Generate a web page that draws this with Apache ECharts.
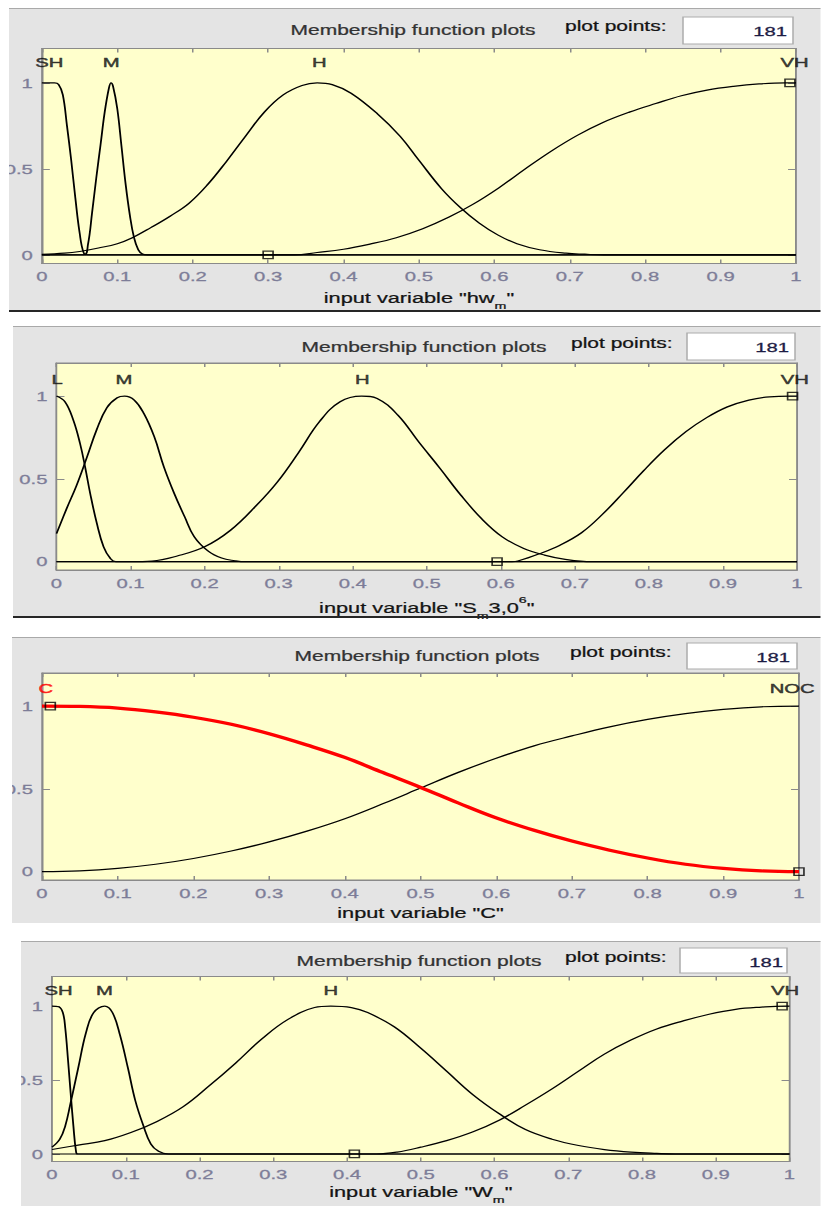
<!DOCTYPE html>
<html>
<head>
<meta charset="utf-8">
<script src="https://cdn.jsdelivr.net/npm/echarts/dist/echarts.min.js"></script>
<style>
  html, body { margin: 0; padding: 0; background: #ffffff; overflow: hidden; }
  #wrap { position: relative; width: 821px; height: 1206px; overflow: hidden; background: #ffffff; }
  /* the GUI capture is wider than tall: draw at 1/1.5 width and stretch horizontally */
  #chart { position: absolute; left: 0; top: 0; width: 547.333px; height: 1206px;
           transform: scaleX(1.5); transform-origin: 0 0; }
</style>
</head>
<body>
<div id="wrap"><div id="chart"></div></div>
<script>
// ---------------- membership functions: [x, degree] ----------------
// input "hw_m"
const hwNames = ['SH', 'M', 'H', 'VH'];
const hwPeaks = [0.01, 0.092, 0.368, 0.998];
const hwSH = [[0,1],[0.0167,1],[0.0222,0.99],[0.0278,0.93],[0.0333,0.75],[0.0389,0.55],[0.0444,0.33],[0.05,0.13],[0.0556,0.01],[0.0611,0],[1,0]];
const hwM  = [[0,0],[0.0556,0],[0.0611,0.06],[0.0667,0.25],[0.0722,0.45],[0.0778,0.64],[0.0833,0.83],[0.0889,0.97],[0.0917,1],[0.0944,0.98],[0.1,0.85],[0.1056,0.63],[0.1111,0.41],[0.1167,0.23],[0.1222,0.1],[0.1278,0.03],[0.1333,0.005],[0.14,0],[1,0]];
const hwH  = [[0,0.003],[0.03,0.01],[0.05,0.02],[0.075,0.04],[0.1,0.065],[0.12,0.1],[0.145,0.16],[0.17,0.225],[0.195,0.30],[0.22,0.41],[0.245,0.545],[0.27,0.69],[0.295,0.83],[0.32,0.93],[0.345,0.985],[0.365,1],[0.385,0.99],[0.41,0.94],[0.445,0.82],[0.475,0.69],[0.5,0.55],[0.53,0.385],[0.555,0.275],[0.58,0.185],[0.605,0.115],[0.63,0.065],[0.66,0.03],[0.695,0.01],[0.72,0.004],[0.745,0],[1,0]];
const hwVH = [[0,0],[0.335,0],[0.365,0.014],[0.4,0.033],[0.435,0.063],[0.47,0.1],[0.505,0.152],[0.54,0.22],[0.572,0.295],[0.606,0.39],[0.641,0.5],[0.676,0.605],[0.71,0.695],[0.744,0.77],[0.779,0.83],[0.814,0.88],[0.848,0.925],[0.882,0.958],[0.917,0.98],[0.951,0.994],[0.986,1],[1,1]];
const hwHandles = [[0.3,0],[0.992,1]];

// input "S_m 3,0^6"
const sNames = ['L', 'M', 'H', 'VH'];
const sPeaks = [0.001, 0.091, 0.413, 0.997];
const sL  = [[0,1],[0.0114,0.966],[0.0227,0.855],[0.0318,0.714],[0.0386,0.573],[0.0455,0.412],[0.0545,0.231],[0.0636,0.09],[0.0727,0.02],[0.08,0],[1,0]];
const sM  = [[0,0.17],[0.0136,0.32],[0.027,0.46],[0.041,0.63],[0.0545,0.8],[0.068,0.93],[0.082,0.99],[0.092,1],[0.105,0.976],[0.118,0.895],[0.132,0.755],[0.145,0.573],[0.159,0.412],[0.173,0.272],[0.186,0.151],[0.2045,0.065],[0.223,0.022],[0.241,0.006],[0.255,0],[1,0]];
const sH  = [[0,0],[0.1,0],[0.129,0.004],[0.164,0.036],[0.2,0.09],[0.235,0.19],[0.27,0.34],[0.298,0.48],[0.327,0.66],[0.355,0.845],[0.383,0.966],[0.412,1],[0.433,0.986],[0.461,0.885],[0.489,0.724],[0.518,0.563],[0.546,0.402],[0.574,0.26],[0.602,0.15],[0.631,0.08],[0.659,0.04],[0.687,0.014],[0.723,0],[1,0]];
const sVH = [[0,0],[0.615,0],[0.623,0.004],[0.652,0.048],[0.68,0.1],[0.709,0.175],[0.737,0.285],[0.765,0.415],[0.793,0.55],[0.821,0.675],[0.85,0.785],[0.878,0.87],[0.906,0.935],[0.935,0.976],[0.963,0.996],[0.991,1],[1,1]];
const sHandles = [[0.595,0],[0.994,1]];

// input "C"
const cNames = ['C', 'NOC'];
const cPeaks = [0.005, 0.991];
const cC   = [[0,1],[0.05,0.998],[0.1,0.988],[0.15,0.965],[0.2,0.933],[0.25,0.89],[0.3,0.833],[0.35,0.765],[0.4,0.69],[0.45,0.6],[0.5,0.51],[0.55,0.415],[0.6,0.325],[0.65,0.25],[0.7,0.185],[0.75,0.13],[0.8,0.083],[0.85,0.045],[0.9,0.02],[0.95,0.005],[1,0]];
const cNOC = [[0,0],[0.05,0.005],[0.1,0.02],[0.15,0.045],[0.2,0.08],[0.25,0.125],[0.3,0.18],[0.35,0.245],[0.4,0.32],[0.45,0.41],[0.5,0.505],[0.55,0.6],[0.6,0.685],[0.65,0.76],[0.7,0.82],[0.75,0.875],[0.8,0.92],[0.85,0.955],[0.9,0.98],[0.95,0.996],[1,1]];
const cHandles = [[0.011,1],[1,0]];

// input "W_m"
const wNames = ['SH', 'M', 'H', 'VH'];
const wPeaks = [0.009, 0.071, 0.378, 0.994];
const wSH = [[0,1],[0.009,0.995],[0.0147,0.956],[0.018,0.85],[0.0218,0.63],[0.0253,0.41],[0.029,0.19],[0.0325,0.02],[0.035,0],[1,0]];
const wM  = [[0,0.046],[0.0105,0.1],[0.018,0.19],[0.025,0.34],[0.0355,0.58],[0.0461,0.82],[0.0566,0.956],[0.0715,1],[0.082,0.956],[0.0924,0.8],[0.103,0.58],[0.113,0.36],[0.124,0.19],[0.134,0.068],[0.1445,0.018],[0.158,0],[1,0]];
const wH  = [[0,0.03],[0.0355,0.06],[0.0715,0.09],[0.107,0.145],[0.1425,0.22],[0.178,0.32],[0.213,0.46],[0.249,0.615],[0.285,0.78],[0.32,0.91],[0.356,0.99],[0.378,1],[0.406,0.99],[0.428,0.956],[0.464,0.86],[0.5,0.715],[0.535,0.56],[0.571,0.4],[0.607,0.27],[0.642,0.165],[0.678,0.1],[0.714,0.057],[0.749,0.03],[0.785,0.013],[0.82,0.004],[0.845,0],[1,0]];
const wVH = [[0,0],[0.44,0],[0.468,0.013],[0.5,0.046],[0.535,0.09],[0.571,0.15],[0.607,0.23],[0.642,0.33],[0.678,0.44],[0.714,0.56],[0.749,0.675],[0.785,0.77],[0.82,0.845],[0.856,0.9],[0.891,0.945],[0.927,0.978],[0.962,0.993],[0.994,1],[1,1]];
const wHandles = [[0.41,0],[0.99,1]];

const xTicks = 0.1;                 // x tick step
const yTickValues = [0, 0.5, 1];    // degree ticks
const plotPoints = '181';

// ---------------- layout (screen pixels, before the horizontal stretch) ----------------
const SX = 1.5;
const sx = v => v / SX;
const FONT = '"Liberation Sans", Arial, Helvetica, sans-serif';

const panels = [
  { curves: [hwSH, hwM, hwH, hwVH], names: hwNames, peaks: hwPeaks, handles: hwHandles, active: -1,
    xName: '{t|input variable "hw}{s|m}{t|"}',
    box: { x: 9, y: 8, b: 310, line: true },
    plot: { l: 37, r: 796, t: 48.5, b: 263.5 }, labelY: 1.117,
    title: { cx: 413, cy: 30 }, pp: { x: 565, cy: 26 }, field: { x: 683, y: 17, w: 110, h: 27, rx: 787, cy: 31 }, nameCY: 298 },
  { curves: [sL, sM, sH, sVH], names: sNames, peaks: sPeaks, handles: sHandles, active: -1,
    xName: '{t|input variable "S}{s|m}{t|3,0}{p|6}{t|"}',
    box: { x: 13, y: 326, b: 616, line: true },
    plot: { l: 56.5, r: 797, t: 363, b: 570 }, labelY: 1.10,
    title: { cx: 424, cy: 347 }, pp: { x: 571, cy: 343 }, field: { x: 687, y: 333, w: 108, h: 27, rx: 789, cy: 347 }, nameCY: 608 },
  { curves: [cC, cNOC], names: cNames, peaks: cPeaks, handles: cHandles, active: 0,
    xName: '{t|input variable "C"}',
    box: { x: 12, y: 637, b: 923, line: false },
    plot: { l: 42, r: 799, t: 673, b: 880 }, labelY: 1.105,
    title: { cx: 417, cy: 656 }, pp: { x: 570, cy: 652 }, field: { x: 687, y: 643, w: 110, h: 26, rx: 790, cy: 657 }, nameCY: 913 },
  { curves: [wSH, wM, wH, wVH], names: wNames, peaks: wPeaks, handles: wHandles, active: -1,
    xName: '{t|input variable "W}{s|m}{t|"}',
    box: { x: 21, y: 941, b: 1206, line: false },
    plot: { l: 52, r: 789.5, t: 976.5, b: 1166.5 }, labelY: 1.105,
    title: { cx: 419, cy: 961 }, pp: { x: 565, cy: 957 }, field: { x: 680, y: 948, w: 107, h: 25, rx: 783, cy: 962 }, nameCY: 1197 }
];

const AXIS_GRAY = '#8a8a8a';
const TICK_TEXT = '#7d7d98';
const DARK = '#141414';
const ACTIVE_RED = '#ff0000';

const grids = [], xAxes = [], yAxes = [], series = [], graphics = [];

function txt(x, y, text, size, color, align, weight) {
  return {
    type: 'text', x: sx(x), y: y, silent: true, z: 20,
    style: { text: text, fill: color, font: size + 'px ' + FONT,
             stroke: color, lineWidth: weight || 0,
             align: align, verticalAlign: 'middle', textAlign: align, textVerticalAlign: 'middle' }
  };
}

panels.forEach((p, i) => {
  const W = 821;
  // gray GUI panel
  graphics.push({ type: 'rect', silent: true, z: -100,
    shape: { x: sx(p.box.x), y: p.box.y, width: sx(W - p.box.x), height: p.box.b - p.box.y },
    style: { fill: '#e4e4e4' } });
  graphics.push({ type: 'rect', silent: true, z: -99,
    shape: { x: sx(p.box.x), y: p.box.y, width: sx(W - p.box.x), height: 1 },
    style: { fill: '#a9a9a9' } });
  if (p.box.line) {
    graphics.push({ type: 'rect', silent: true, z: 100,
      shape: { x: sx(p.box.x), y: p.box.b, width: sx(W - p.box.x), height: 2 },
      style: { fill: '#262626' } });
  }
  // the panel's left edge cuts off anything drawn beyond it
  graphics.push({ type: 'rect', silent: true, z: 100,
    shape: { x: 0, y: p.box.y, width: sx(p.box.x), height: p.box.b - p.box.y + 2 },
    style: { fill: '#ffffff' } });

  // header texts and the plot points field
  graphics.push(txt(p.title.cx, p.title.cy, 'Membership function plots', 14, '#333333', 'center', 0.25));
  graphics.push(txt(p.pp.x, p.pp.cy, 'plot points:', 14, DARK, 'left', 0.25));
  graphics.push({ type: 'rect', silent: true, z: 10,
    shape: { x: sx(p.field.x), y: p.field.y, width: sx(p.field.w), height: p.field.h },
    style: { fill: '#ffffff', stroke: '#acacac', lineWidth: 1 } });
  graphics.push(txt(p.field.rx, p.field.cy, plotPoints, 13.5, '#1c1c44', 'right', 0.3));

  // plot area
  const pl = p.plot;
  grids.push({ left: sx(pl.l), top: pl.t, width: sx(pl.r - pl.l), height: pl.b - pl.t,
    show: true, backgroundColor: '#ffffcc', borderColor: AXIS_GRAY, borderWidth: 1 });

  const axisLine = { show: true, onZero: false, lineStyle: { color: AXIS_GRAY, width: 1 } };
  const tickText = { color: TICK_TEXT, fontSize: 13.5, fontFamily: FONT,
                     textBorderColor: TICK_TEXT, textBorderWidth: 0.3 };
  const nameTok = { fontFamily: FONT, color: DARK, textBorderColor: DARK, textBorderWidth: 0.25 };
  xAxes.push({
    gridIndex: i, type: 'value', min: 0, max: 1, interval: xTicks, position: 'bottom',
    axisLine: axisLine,
    axisTick: { show: true, inside: true, length: 4, lineStyle: { color: AXIS_GRAY } },
    axisLabel: Object.assign({ show: true, margin: 6 }, tickText),
    splitLine: { show: false },
    name: p.xName, nameLocation: 'middle', nameGap: (p.nameCY - pl.b) - 13,
    nameTextStyle: {
      rich: {
        t: Object.assign({ fontSize: 14.5, lineHeight: 26, verticalAlign: 'middle' }, nameTok),
        s: Object.assign({ fontSize: 9.5, lineHeight: 9, verticalAlign: 'bottom' }, nameTok),
        p: Object.assign({ fontSize: 9.5, lineHeight: 14, verticalAlign: 'top' }, nameTok)
      }
    }
  });
  xAxes.push({
    gridIndex: i, type: 'value', min: 0, max: 1, interval: xTicks, position: 'top',
    axisLine: axisLine,
    axisTick: { show: true, inside: true, length: 4, lineStyle: { color: AXIS_GRAY } },
    axisLabel: { show: false }, splitLine: { show: false }
  });
  yAxes.push({
    gridIndex: i, type: 'value', min: -0.05, max: 1.2, position: 'left',
    axisLine: axisLine,
    axisTick: { show: true, inside: true, length: 5.3, customValues: yTickValues, lineStyle: { color: AXIS_GRAY } },
    axisLabel: Object.assign({ show: true, margin: 6, customValues: yTickValues }, tickText),
    splitLine: { show: false }
  });
  yAxes.push({
    gridIndex: i, type: 'value', min: -0.05, max: 1.2, position: 'right',
    axisLine: axisLine,
    axisTick: { show: true, inside: true, length: 5.3, customValues: yTickValues, lineStyle: { color: AXIS_GRAY } },
    axisLabel: { show: false }, splitLine: { show: false }
  });

  const xi = 2 * i, yi = 2 * i;
  // inactive curves first, selected one on top
  p.curves.forEach((pts, k) => {
    const on = k === p.active;
    series.push({
      type: 'line', name: p.names[k], xAxisIndex: xi, yAxisIndex: yi, data: pts,
      symbol: 'none', smooth: 0.4, silent: true, clip: true, z: on ? 4 : 2,
      lineStyle: { color: on ? ACTIVE_RED : '#000000', width: on ? 3.2 : 1.2 }
    });
  });
  // square handles of the selected function
  series.push({
    type: 'scatter', xAxisIndex: xi, yAxisIndex: yi, data: p.handles, silent: true, z: 6,
    symbol: 'rect', symbolSize: [6.6, 7.5],
    itemStyle: { color: 'rgba(0,0,0,0)', borderColor: '#000000', borderWidth: 1.2 }
  });
  // function names above each peak
  series.push({
    type: 'scatter', xAxisIndex: xi, yAxisIndex: yi, silent: true, z: 7, symbolSize: 0, clip: false,
    data: p.names.map((n, k) => {
      const c = k === p.active ? ACTIVE_RED : DARK;
      return { name: n, value: [p.peaks[k], p.labelY],
               label: { color: c, textBorderColor: c } };
    }),
    label: { show: true, position: 'inside', formatter: '{b}', fontSize: 13.5, fontFamily: FONT,
             textBorderWidth: 0.5 }
  });
});

const chart = echarts.init(document.getElementById('chart'), null, { renderer: 'svg' });
chart.setOption({
  animation: false,
  backgroundColor: 'transparent',
  grid: grids, xAxis: xAxes, yAxis: yAxes, series: series,
  graphic: { elements: graphics }
});
</script>
</body>
</html>
